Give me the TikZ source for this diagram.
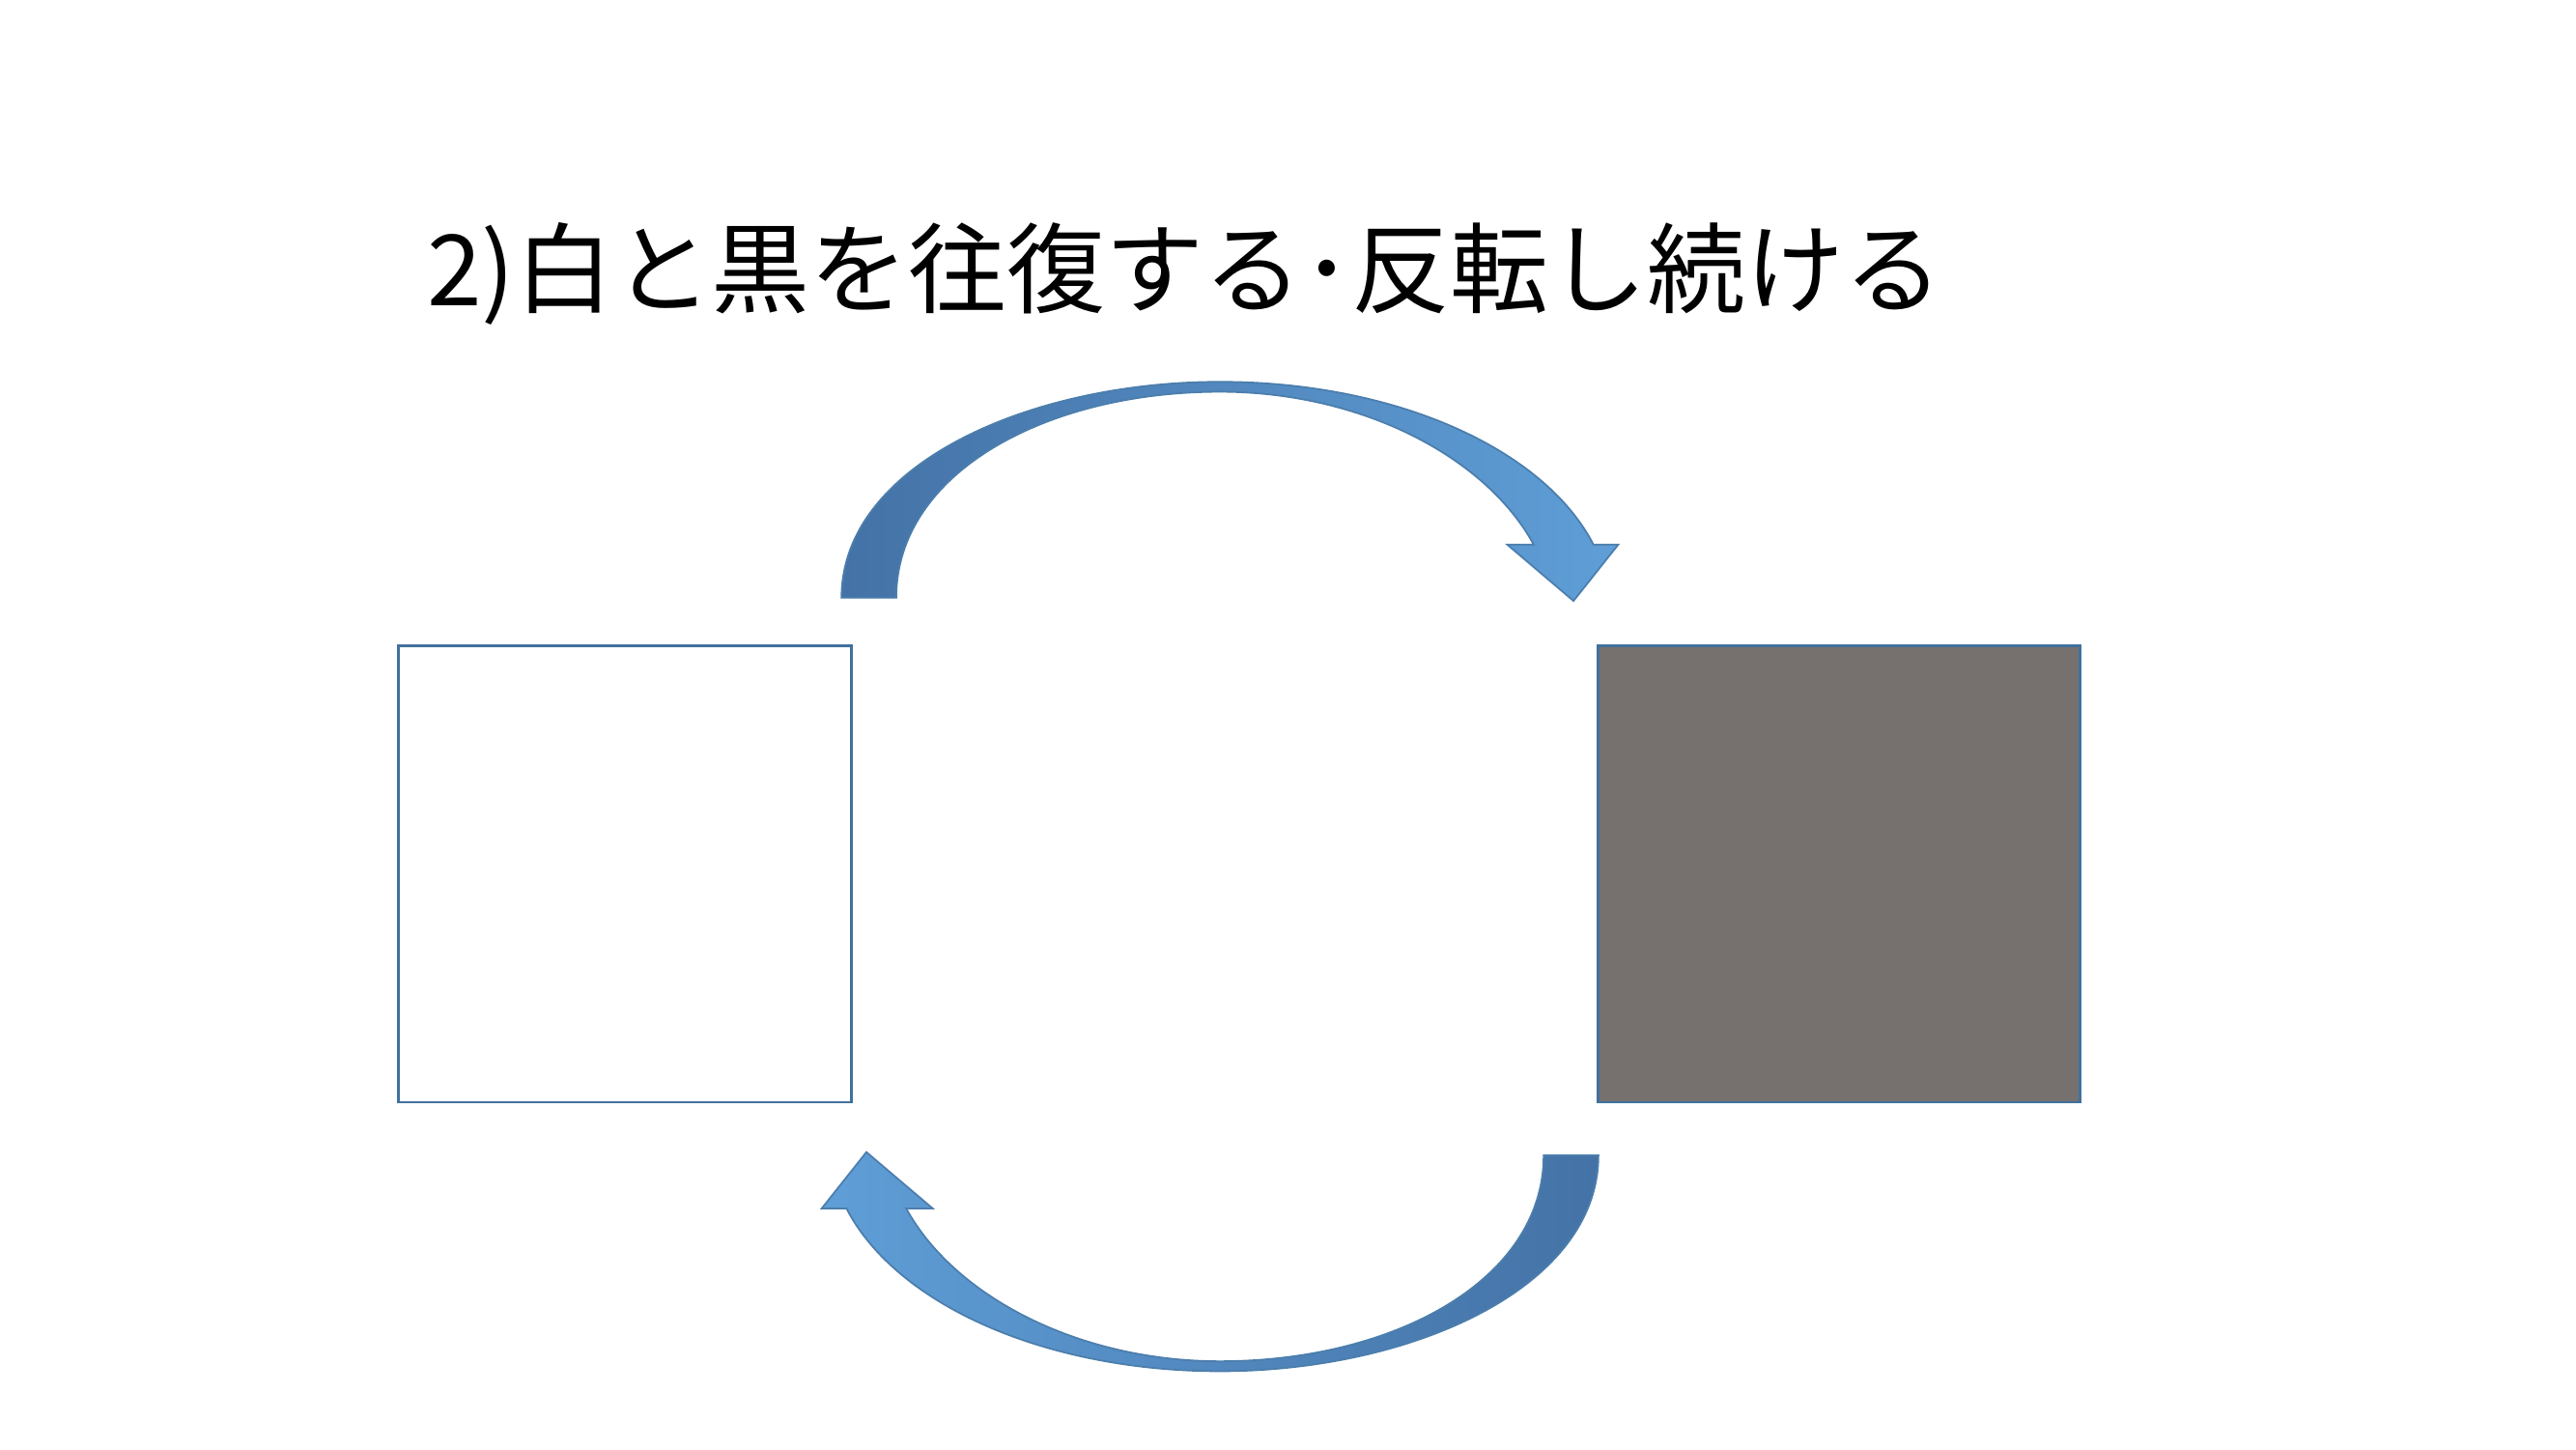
\documentclass[tikz,border=0pt]{standalone}
\usepackage{fontspec}
\newfontfamily\cjk{Noto Sans CJK JP}
\usetikzlibrary{positioning}
\definecolor{framblue}{RGB}{65,113,156}
\definecolor{arrowdark}{RGB}{68,114,166}
\definecolor{arrowlight}{RGB}{95,158,215}
\definecolor{blackgray}{RGB}{118,113,111}

\begin{document}
\begin{tikzpicture}[
    x=0.01718cm, y=-0.01718cm,
    tile/.style={rectangle, draw=framblue, thick, minimum width=273*0.01718cm, minimum height=275*0.01718cm, inner sep=0pt},
    bendarrow/.style={left color=arrowdark, right color=arrowlight, draw=arrowlight!80!black, line width=0.5pt}
]
\useasboundingbox (0,0) rectangle (1552,873);

% Title
\node[font=\cjk\fontsize{29}{34}\selectfont, anchor=west] (title) at (250,165) {2)白と黒を往復する･反転し続ける};

% Squares
\node[tile, fill=white] (white) at (376.5,526.5) {};
\node[tile, fill=blackgray, minimum width=290*0.01718cm] (black) at (1108,526.5) {};

% Curved arrows
\foreach \ang/\lc/\rc in {0/arrowdark/arrowlight, 180/arrowlight/arrowdark} {
  \begin{scope}[rotate around={\ang:(735,528)}]
  \filldraw[bendarrow, left color=\lc, right color=\rc] (507,360) .. controls (507,280) and (620,230) .. (735,230)
    .. controls (840,230) and (930,270) .. (960,328) -- (975,328) -- (948,362) -- (908,328) -- (924,328)
    .. controls (895,275) and (820,236) .. (735,236)
    .. controls (630,236) and (540,285) .. (540,360) -- cycle;
  \end{scope}
}

\end{tikzpicture}
\end{document}
